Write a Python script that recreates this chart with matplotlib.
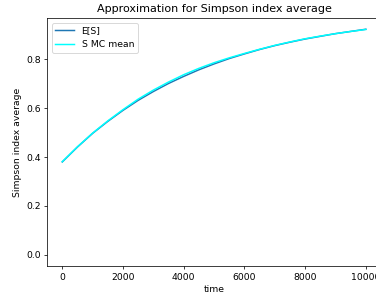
import matplotlib
matplotlib.use("Agg")
from matplotlib import pyplot as plt

# Values.
times = [0, 500, 1000, 1500, 2000, 2500, 3000, 3500, 4000, 4500, 5000,
         5500, 6000, 6500, 7000, 7500, 8000, 8500, 9000, 9500, 10000]
expected_s = [0.380, 0.441, 0.497, 0.546, 0.591, 0.632, 0.668, 0.701, 0.730, 0.757, 0.781,
              0.803, 0.822, 0.840, 0.856, 0.870, 0.883, 0.894, 0.905, 0.914, 0.923]
mc_mean = [0.381, 0.442, 0.498, 0.548, 0.594, 0.637, 0.674, 0.707, 0.737, 0.763, 0.786,
           0.806, 0.824, 0.841, 0.857, 0.871, 0.884, 0.895, 0.905, 0.914, 0.922]

dpi = 67
fig = plt.figure(figsize=(376 / dpi, 300 / dpi), dpi=dpi)
ax = fig.add_axes([0.1253, 0.1133, 0.888, 0.8267])

ax.plot(times, expected_s, lw=1.6, label="E[S]")
ax.plot(times, mc_mean, c="cyan", lw=1.6, label="S MC mean")

ax.set_ylim(-0.046, 0.969)
ax.set_xlim(-500, 10500)
ax.set_title("Approximation for Simpson index average")
ax.set_xlabel("time")
ax.set_ylabel("Simpson index average")
ax.legend(loc="upper left")

plt.savefig("out.png", dpi=dpi)
